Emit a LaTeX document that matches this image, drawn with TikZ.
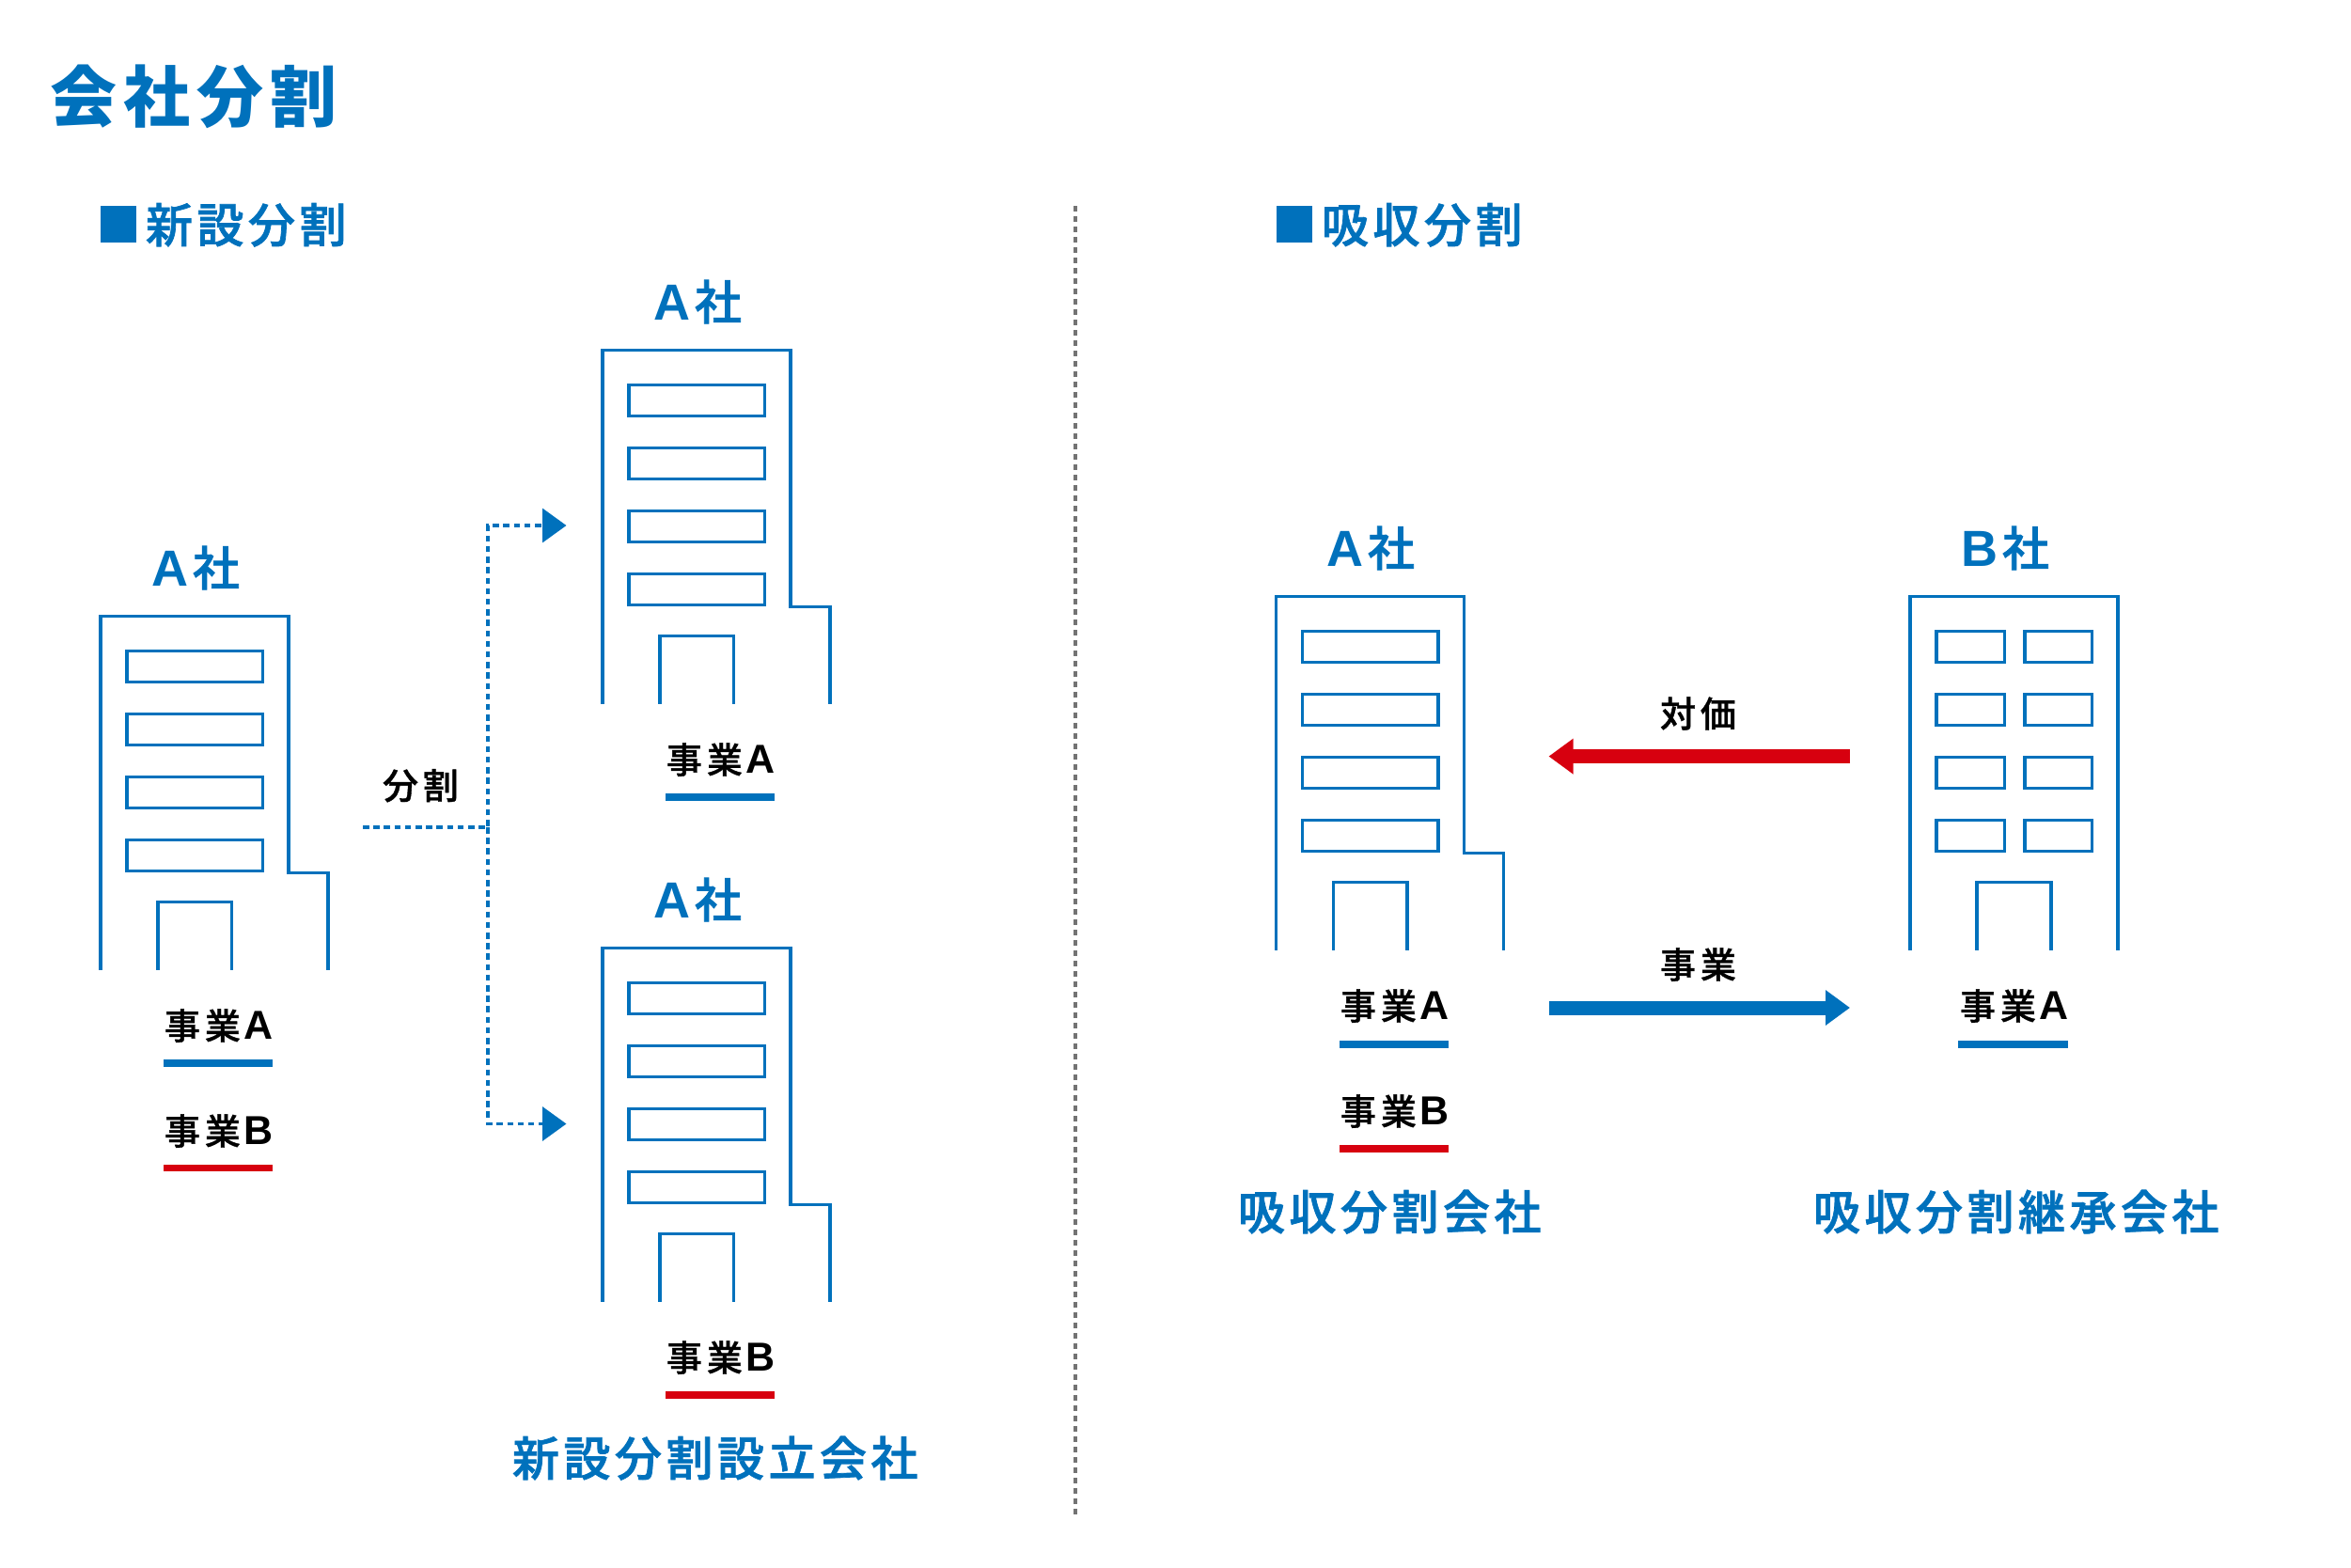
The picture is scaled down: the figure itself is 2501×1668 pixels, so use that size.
\documentclass[tikz,border=0pt]{standalone}
\usepackage{fontspec}
\usetikzlibrary{arrows.meta}
\setmainfont{Noto Sans CJK JP}
\newfontfamily\jptitle{Noto Sans CJK JP}[LetterSpace=10]
\newfontfamily\jphead{Noto Sans CJK JP Medium}[LetterSpace=9,FakeBold=1.5]
\newfontfamily\jpcomp{Noto Sans CJK JP Medium}[FakeBold=1.5]
\newfontfamily\jpbody{Noto Sans CJK JP Medium}[LetterSpace=13,FakeBold=1]
\newfontfamily\latinface{Liberation Sans}
\newcommand\compname[1]{{\latinface\bfseries\fontsize{54}{54}\selectfont #1}\kern5pt 社}
\newcommand\bizname[1]{事業\kern4pt{\latinface\fontsize{43}{43}\selectfont\bfseries #1}}
\definecolor{corpblue}{RGB}{0,113,188}
\definecolor{corpred}{RGB}{215,0,15}
\definecolor{divgray}{RGB}{115,115,115}
\tikzset{
  txt/.style={inner sep=0pt,outer sep=0pt,anchor=base west},
  titletxt/.style={txt,text=corpblue,font=\jptitle\bfseries\fontsize{71}{71}\selectfont},
  headtxt/.style={txt,text=corpblue,font=\jphead\fontsize{50}{50}\selectfont},
  comptxt/.style={txt,text=corpblue,font=\jpcomp\fontsize{50}{50}\selectfont},
  bodytxt/.style={txt,text=black,font=\jpbody\fontsize{38}{38}\selectfont},
  wall/.style={draw=corpblue,line width=3.2pt,line join=miter},
  officea/.pic={
    \draw[wall] (-107,376) -- (-107,0) -- (93,0) -- (93,273) -- (135,273) -- (135,376);
    \foreach \yy in {37,103.7,170.7,237.7}
      \draw[wall] (-79,\yy) rectangle (65.5,\yy+33);
    \draw[wall] (-46,376) -- (-46,304) -- (32.5,304) -- (32.5,376);
  },
  officeb/.pic={
    \draw[wall] (0,376) -- (0,0) -- (221,0) -- (221,376);
    \foreach \yy in {37,103.7,170.7,237.7} {
      \draw[wall] (28,\yy) rectangle (100.5,\yy+33);
      \draw[wall] (122,\yy) rectangle (193.5,\yy+33);
    }
    \draw[wall] (71,376) -- (71,304) -- (150,304) -- (150,376);
  },
  dotline/.style={draw=corpblue,line width=3.4pt,dash pattern=on 6.5pt off 4.7pt},
  dottip/.style={-{Triangle[length=25.5pt,width=36pt]}},
  flowblue/.style={draw=corpblue,line width=15pt,-{Triangle[length=26pt,width=36pt]}},
  flowred/.style={draw=corpred,line width=15pt,-{Triangle[length=26pt,width=36pt]}},
}
\begin{document}
\begin{tikzpicture}[x=1pt,y=-1pt]
\useasboundingbox (0,0) rectangle (2501,1668);
% title and headings
\node[titletxt] (title) at (53,129) {会社分割};
\fill[corpblue] (107,219) rectangle (145,258);
\node[headtxt] (headL) at (155,258) {新設分割};
\fill[corpblue] (1358,219) rectangle (1396,258);
\node[headtxt] (headR) at (1406,258) {吸収分割};
% divider
\coordinate (divT) at (1144,219);
\coordinate (divB) at (1144,1614);
\draw[divgray,line width=3.3pt,dash pattern=on 6pt off 5pt] (divT) -- (divB);
% left building
\pic at (214,655.5) {officea};
\node[comptxt] (coL) at (161,623) {\compname{A}};
\node[bodytxt] (bizLA) at (175,1105.5) {\bizname{A}};
\fill[corpblue] (173.6,1127) rectangle (290,1135);
\node[bodytxt] (bizLB) at (175,1217.5) {\bizname{B}};
\fill[corpred] (173.6,1238.6) rectangle (290,1246.4);
% upper right building
\pic at (748,372.5) {officea};
\node[comptxt] (coT) at (695,340) {\compname{A}};
\node[bodytxt] (bizTA) at (709,822.5) {\bizname{A}};
\fill[corpblue] (708,844) rectangle (824.4,852);
% lower building
\pic at (748,1008.5) {officea};
\node[comptxt] (coU) at (695,976) {\compname{A}};
\node[bodytxt] (bizUB) at (709,1458.5) {\bizname{B}};
\fill[corpred] (708,1480) rectangle (824.4,1488);
\node[headtxt] (nameNew) at (545,1570) {新設分割設立会社};
% split connector
\node[bodytxt] (split) at (407,850) {分割};
\coordinate (splitS) at (386,880);
\coordinate (splitJ) at (519,880);
\coordinate (splitT) at (602.5,559);
\coordinate (splitU) at (602.5,1195.5);
\draw[dotline,dottip] (splitS) -- (splitJ) |- (splitT);
\draw[dotline,dottip] (splitJ) |- (splitU);
% right side A
\pic at (1464.5,634.5) {officea};
\node[comptxt] (coA) at (1411,602) {\compname{A}};
\node[bodytxt] (bizRA) at (1426,1084.5) {\bizname{A}};
\fill[corpblue] (1425,1107) rectangle (1541,1115);
\node[bodytxt] (bizRB) at (1426,1196.5) {\bizname{B}};
\fill[corpred] (1425,1218) rectangle (1541,1226);
\node[headtxt] (nameAbs) at (1317,1308) {吸収分割会社};
% right side B
\pic at (2032,634.5) {officeb};
\node[comptxt] (coB) at (2086,602) {\compname{B}};
\node[bodytxt] (bizBA) at (2085,1084.5) {\bizname{A}};
\fill[corpblue] (2083,1107) rectangle (2199.6,1115);
\node[headtxt] (nameSucc) at (1929,1308) {吸収分割継承会社};
% exchange arrows
\node[bodytxt] (pay) at (1766,773.5) {対価};
\node[bodytxt] (biz) at (1766,1040.5) {事業};
\coordinate (payS) at (1968,804.6);
\coordinate (payE) at (1647.5,804.6);
\coordinate (bizS) at (1647.5,1072);
\coordinate (bizE) at (1968,1072);
\draw[flowred] (payS) -- (payE);
\draw[flowblue] (bizS) -- (bizE);
\end{tikzpicture}
\end{document}
